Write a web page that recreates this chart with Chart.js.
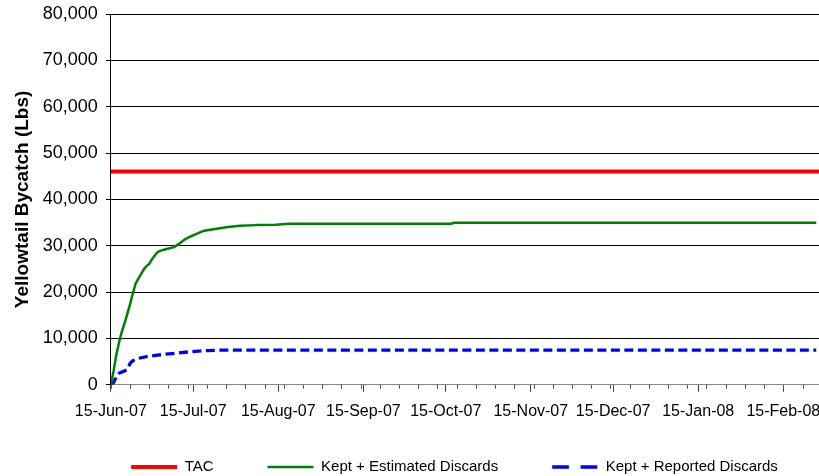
<!DOCTYPE html>
<html>
<head>
<meta charset="utf-8">
<script src="https://cdn.jsdelivr.net/npm/chart.js@4.4.1/dist/chart.umd.min.js"></script>
<style>
  html, body { margin: 0; padding: 0; background: #fff; }
  #wrap { width: 819px; height: 476px; }
</style>
</head>
<body>
<div id="wrap"><canvas id="bycatch-chart"></canvas></div>
<script>
// x values are days since 15-Jun-07
const monthDays = [0, 30, 61, 92, 122, 153, 183, 214, 245];
const monthLabels = [
  "15-Jun-07", "15-Jul-07", "15-Aug-07", "15-Sep-07", "15-Oct-07",
  "15-Nov-07", "15-Dec-07", "15-Jan-08", "15-Feb-08",
];
const lastDay = 258;

const tacDays = [0, 258];
const tacValues = [46000, 46000];

const estDays = [0, 1, 2, 3, 4, 5, 6, 7, 8, 9, 10, 11, 12, 13, 14, 15, 16, 17, 18, 19,
  21, 23, 25, 27, 29, 31, 34, 38, 42, 47, 53, 60, 65, 124, 125, 257];
const estValues = [0, 3000, 6500, 9200, 11500, 13300, 15300, 17400, 19700, 21800,
  22900, 23900, 24900, 25600, 26100, 27100, 27900, 28600, 28900, 29100,
  29400, 29700, 30500, 31400, 32000, 32500, 33250, 33600, 34000, 34300,
  34450, 34520, 34740, 34750, 34960, 34960];

const repDays = [0, 1, 2, 3, 5, 6, 7, 8, 10, 13, 17, 20, 24, 28, 34, 40, 257];
const repValues = [0, 500, 1700, 2500, 3000, 3300, 4600, 5200, 5700, 6100,
  6400, 6600, 6850, 7080, 7350, 7500, 7500];

const toPoints = (xs, ys) => xs.map((x, i) => ({ x: x, y: ys[i] }));

// weekly minor ticks under the date axis
const minorTicks = {
  id: "minorTicks",
  afterDraw(chart) {
    const xs = chart.scales.x;
    const ctx = chart.ctx;
    const y0 = chart.chartArea.bottom;
    ctx.save();
    ctx.strokeStyle = "#555";
    ctx.lineWidth = 1;
    for (let d = 0; d <= lastDay; d += 7) {
      const px = Math.round(xs.getPixelForValue(d)) + 0.5;
      ctx.beginPath();
      ctx.moveTo(px, y0);
      ctx.lineTo(px, y0 + 4);
      ctx.stroke();
    }
    ctx.restore();
  },
};

// legend sits a bit right of centre and low, like the Excel one
const legendShift = {
  id: "legendShift",
  afterLayout(chart) {
    const lg = chart.legend;
    lg.left += 42;
    lg.right += 42;
    lg.top = 405.5;
    lg.bottom = chart.height;
  },
};

Chart.defaults.font.family = "'Liberation Sans', Arial, sans-serif";
Chart.defaults.color = "#000";

new Chart(document.getElementById("bycatch-chart"), {
  type: "line",
  data: {
    datasets: [
      {
        label: "TAC",
        data: toPoints(tacDays, tacValues),
        borderColor: "#ff0000",
        backgroundColor: "#ff0000",
        borderWidth: 4,
      },
      {
        label: "Kept + Estimated Discards",
        data: toPoints(estDays, estValues),
        borderColor: "#008000",
        backgroundColor: "#008000",
        borderWidth: 2.5,
      },
      {
        label: "Kept + Reported Discards",
        data: toPoints(repDays, repValues),
        borderColor: "#0000ff",
        backgroundColor: "#0000ff",
        borderWidth: 3.3,
        borderDash: [9, 4.5],
      },
    ],
  },
  options: {
    animation: false,
    responsive: true,
    maintainAspectRatio: false,
    devicePixelRatio: 1,
    elements: {
      point: { radius: 0 },
      line: { tension: 0, borderJoinStyle: "round" },
    },
    layout: {
      padding: { left: 6, right: 0, top: 14, bottom: 0 },
    },
    plugins: {
      tooltip: { enabled: false },
      legend: {
        position: "bottom",
        maxHeight: 45,
        labels: {
          usePointStyle: true,
          pointStyle: "line",
          pointStyleWidth: 46,
          padding: 54,
          font: { size: 15 },
          color: "#000",
          generateLabels(chart) {
            const items = Chart.defaults.plugins.legend.labels.generateLabels(chart);
            items.forEach((it) => {
              if (it.datasetIndex === 2) it.lineDash = [16.7, 11.7];
            });
            return items;
          },
        },
      },
    },
    scales: {
      x: {
        type: "linear",
        min: 0,
        max: lastDay,
        afterBuildTicks(scale) {
          scale.ticks = monthDays.map((v) => ({ value: v }));
        },
        afterFit(scale) {
          scale.paddingLeft = 0;
          scale.paddingRight = 0;
        },
        ticks: {
          autoSkip: false,
          maxRotation: 0,
          padding: 10,
          font: { size: 16 },
          color: "#000",
          callback(v) {
            return monthLabels[monthDays.indexOf(v)];
          },
        },
        grid: { drawOnChartArea: false, tickLength: 7, tickColor: "#444" },
        border: { color: "#888" },
      },
      y: {
        min: 0,
        max: 80000,
        afterFit(scale) {
          scale.paddingTop = 0;
          scale.paddingBottom = 0;
        },
        ticks: {
          stepSize: 10000,
          padding: 8,
          font: { size: 18 },
          color: "#000",
          callback: (v) => v.toLocaleString("en-US"),
        },
        grid: { color: "#000", tickLength: 5, tickColor: "#000" },
        border: { color: "#000" },
        title: {
          display: true,
          text: "Yellowtail Bycatch (Lbs)",
          font: { size: 19, weight: "bold" },
          color: "#000",
          padding: { top: 5, bottom: 1 },
        },
      },
    },
  },
  plugins: [minorTicks, legendShift],
});
</script>
</body>
</html>
